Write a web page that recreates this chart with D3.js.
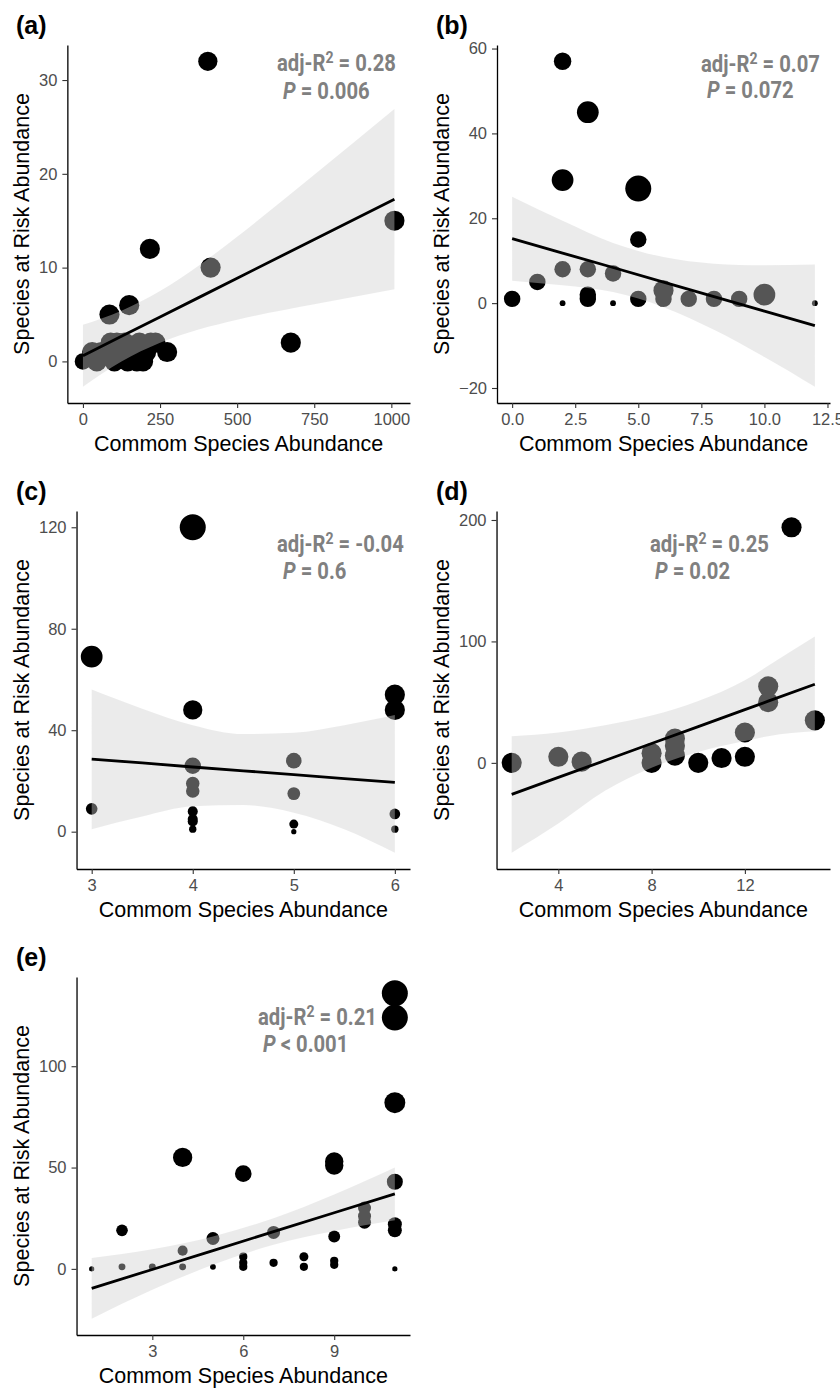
<!DOCTYPE html>
<html>
<head>
<meta charset="utf-8">
<script src="https://cdn.jsdelivr.net/npm/d3@7"></script>
<style>
  body { margin: 0; background: #fff; }
  svg text { font-family: "Liberation Sans", Arial, sans-serif; }
  .tick text { fill: #4d4d4d; font-size: 16.5px; }
  .tick line { stroke: #333; stroke-width: 1.1px; }
  .domain { stroke: #000; stroke-width: 1.3px; }
  .ttl { font-size: 21.5px; fill: #000; }
  .lbl { font-size: 25px; font-weight: bold; fill: #000; }
  .stat { font-family: Roboto, sans-serif !important; font-weight: 700; fill: #808080; font-size: 23px; }
</style>
</head>
<body>
<svg id="chart" width="840" height="1390"></svg>
<script>
// ---- panel (a)
var aX = [0, 30, 45, 60, 75, 86, 90, 102, 110, 120, 135, 145, 150, 160, 175, 183, 195, 205, 217, 220, 235, 273, 405, 414, 674, 1010];
var aY = [0, 1, 0, 1, 1, 5, 2, 0, 2, 1, 2, 0, 6, 1, 0, 2, 0, 1, 12, 2, 2, 1, 32, 10, 2, 15];
var aSize = [4, 6, 6, 6, 6, 6, 6, 6, 6, 6, 6, 6, 6, 6, 6, 6, 6, 6, 6, 6, 6, 6, 5.5, 6, 6, 6];
var aBandX = [0, 125, 250, 375, 500, 750, 1010];
var aFit = [0.6, 2.67, 4.74, 6.8, 8.87, 13.0, 17.3];
var aLo = [-2.7, 0.0, 2.0, 3.4, 4.45, 6.1, 7.7];
var aHi = [3.9, 5.4, 7.5, 10.2, 13.3, 19.9, 26.9];
var aXTicks = [0, 250, 500, 750, 1000], aYTicks = [0, 10, 20, 30];

// ---- panel (b)
var bX = [0, 1, 2, 2, 2, 2, 3, 3, 3, 3, 4, 4, 5, 5, 5, 6, 6, 7, 8, 9, 10, 12];
var bY = [1, 5, 8, 0, 57, 29, 45, 8, 1, 2, 7, 0, 27, 15, 1, 3, 1, 1, 1, 1, 2, 0];
var bSize = [4, 4, 4, 0.5, 4.5, 7, 7, 4, 4, 4, 4, 0.5, 10, 4, 4, 6, 4, 4, 4, 4, 7, 0.5];
var bBandX = [0, 2, 4, 6, 8, 10, 12];
var bFit = [15.2, 11.8, 8.4, 4.95, 1.53, -1.9, -5.3];
var bLo = [5.3, 4.2, 2.6, -0.95, -6.3, -12.7, -19.7];
var bHi = [25.1, 19.4, 14.2, 10.85, 9.3, 8.9, 9.1];
var bXTicks = [0, 2.5, 5, 7.5, 10, 12.5], bYTicks = [-20, 0, 20, 40, 60];

// ---- panel (c)
var cX = [3, 3, 4, 4, 4, 4, 4, 4, 4, 4, 4, 5, 5, 5, 5, 6, 6, 6, 6];
var cY = [69, 9, 120, 48, 26, 19, 16, 8, 5, 4, 1, 28, 15, 3, 0, 54, 48, 7, 1];
var cSize = [7, 2, 10, 5.5, 4, 2.7, 2.7, 1.5, 1.5, 1.5, 0.8, 3.6, 2.4, 1.2, 0.4, 6, 6, 1.7, 0.8];
var cBandX = [3, 3.5, 4, 4.5, 5, 5.5, 6];
var cFit = [28.6, 27.1, 25.5, 24, 22.5, 20.9, 19.4];
var cLo = [1, 6, 10, 10.5, 7.5, 1, -8.3];
var cHi = [56, 48.5, 42, 38.5, 39, 42, 46];
var cXTicks = [3, 4, 5, 6], cYTicks = [0, 40, 80, 120];

// ---- panel (d)
var dX = [2, 4, 5, 8, 8, 9, 9, 9, 10, 11, 12, 12, 13, 13, 14, 15];
var dY = [0, 5, 1, 8, 0, 20, 14, 6, 0, 4, 5, 25, 63, 50, 194, 35];
var dSize = [6, 6, 6, 6, 6, 6, 6, 6, 6, 6, 6, 6, 6, 6, 6, 6];
var dBandX = [2, 4, 6, 8, 10, 12, 13, 15];
var dFit = [-26, -12, 1.9, 15.9, 29.8, 43.8, 50.8, 64.7];
var dLo = [-74, -50, -23, -4, 9, 18, 22, 26];
var dHi = [22, 25, 31, 39, 51, 68, 80, 104];
var dXTicks = [4, 8, 12], dYTicks = [0, 100, 200];

// ---- panel (e)
var eX = [1, 2, 2, 3, 4, 4, 4, 5, 5, 6, 6, 6, 6, 7, 7, 8, 8, 9, 9, 9, 9, 9, 10, 10, 10, 11, 11, 11, 11, 11, 11, 11];
var eY = [0, 19, 1, 1, 55, 9, 1, 15, 1, 47, 6, 3, 1, 18, 3, 6, 1, 53, 51, 16, 4, 2, 30, 26, 23, 136, 124, 82, 43, 22, 19, 0];
var eSize = [0.4, 2, 0.7, 0.7, 5.5, 1.5, 0.7, 2.5, 0.5, 4.1, 1, 1, 1, 2.5, 1, 1.2, 1, 5, 5, 2.1, 1, 1, 2.5, 2.5, 2.5, 10, 10, 6.5, 3.8, 2.9, 2.9, 0.4];
var eBandX = [1, 3, 5, 7, 9, 11];
var eFit = [-9.6, -0.3, 9.0, 18.4, 27.7, 37.0];
var eLo = [-24.6, -10.3, 2, 11.9, 18.7, 24];
var eHi = [5.4, 9.7, 16, 25, 36.7, 50];
var eXTicks = [3, 6, 9], eYTicks = [0, 50, 100];

var panels = [
  { lab: "(a)", col: 0, row: 0, x: aX, y: aY, s: aSize, bx: aBandX, fit: aFit, lo: aLo, hi: aHi,
    xt: aXTicks, yt: aYTicks, xf: d3.format("d"), r2: "0.28", pv: "= 0.006", ax: 277, ay: 71, px: 283, py: 99 },
  { lab: "(b)", col: 1, row: 0, x: bX, y: bY, s: bSize, bx: bBandX, fit: bFit, lo: bLo, hi: bHi,
    xt: bXTicks, yt: bYTicks, xf: d3.format(".1f"), r2: "0.07", pv: "= 0.072", ax: 281, ay: 72, px: 287, py: 98 },
  { lab: "(c)", col: 0, row: 1, x: cX, y: cY, s: cSize, bx: cBandX, fit: cFit, lo: cLo, hi: cHi,
    xt: cXTicks, yt: cYTicks, xf: d3.format("d"), r2: "-0.04", pv: "= 0.6", ax: 277, ay: 86, px: 283, py: 113 },
  { lab: "(d)", col: 1, row: 1, x: dX, y: dY, s: dSize, bx: dBandX, fit: dFit, lo: dLo, hi: dHi,
    xt: dXTicks, yt: dYTicks, xf: d3.format("d"), r2: "0.25", pv: "= 0.02", ax: 230, ay: 86, px: 235, py: 113 },
  { lab: "(e)", col: 0, row: 2, x: eX, y: eY, s: eSize, bx: eBandX, fit: eFit, lo: eLo, hi: eHi,
    xt: eXTicks, yt: eYTicks, xf: d3.format("d"), r2: "0.21", pv: "< 0.001", ax: 258, ay: 93, px: 263, py: 120 }
];

var svg = d3.select("#chart");
var size = d3.scaleSqrt().domain([0, 10]).range([0, 13]);
var plotTop = 45, plotBottom = 403, plotRight = 410;

panels.forEach(function (p, k) {
  var g = svg.append("g").attr("transform", "translate(" + (p.col * 420) + "," + (p.row * 466) + ")");

  // ggplot style limits: data + ribbon, 5% expansion
  var ye = d3.extent(p.y.concat(p.lo, p.hi)), yp = (ye[1] - ye[0]) * 0.05;
  var xe = d3.extent(p.x.concat(p.bx)), xp = (xe[1] - xe[0]) * 0.05;
  var y = d3.scaleLinear().domain([ye[0] - yp, ye[1] + yp]).range([plotBottom, plotTop]);

  var ya = g.append("g").call(d3.axisLeft(y).tickValues(p.yt).tickSize(5).tickPadding(5).tickSizeOuter(0));
  var lw = d3.max(ya.selectAll(".tick text").nodes(), function (n) { return n.getComputedTextLength(); });
  var left = 39 + lw + 10;
  ya.attr("transform", "translate(" + left + ",0)");

  var x = d3.scaleLinear().domain([xe[0] - xp, xe[1] + xp]).range([left, plotRight]);

  var cid = "clip" + k;
  g.append("clipPath").attr("id", cid).append("rect")
    .attr("x", left).attr("y", plotTop).attr("width", plotRight - left).attr("height", plotBottom - plotTop);
  var plot = g.append("g").attr("clip-path", "url(#" + cid + ")");

  plot.selectAll("circle").data(p.x).enter().append("circle")
    .attr("cx", function (d) { return x(d); })
    .attr("cy", function (d, i) { return y(p.y[i]); })
    .attr("r", function (d, i) { return size(p.s[i]); })
    .attr("fill", "#000");

  var band = d3.area()
    .x(function (d) { return x(d); })
    .y0(function (d, i) { return y(p.lo[i]); })
    .y1(function (d, i) { return y(p.hi[i]); })
    .curve(d3.curveMonotoneX);
  plot.append("path").attr("d", band(p.bx)).attr("fill", "#cfcfcf").attr("fill-opacity", 0.41);

  var line = d3.line()
    .x(function (d) { return x(d); })
    .y(function (d, i) { return y(p.fit[i]); });
  plot.append("path").attr("d", line(p.bx)).attr("fill", "none").attr("stroke", "#000").attr("stroke-width", 2.8);

  g.append("g").attr("transform", "translate(0," + plotBottom + ")")
    .call(d3.axisBottom(x).tickValues(p.xt).tickFormat(p.xf).tickSize(5).tickPadding(5).tickSizeOuter(0));
  ya.raise();

  g.append("text").attr("class", "ttl").attr("x", (left + plotRight) / 2).attr("y", 451)
    .attr("text-anchor", "middle").text("Commom Species Abundance");
  g.append("text").attr("class", "ttl").attr("transform", "translate(28.5," + ((plotTop + plotBottom) / 2) + ") rotate(-90)")
    .attr("text-anchor", "middle").text("Species at Risk Abundance");
  g.append("text").attr("class", "lbl").attr("x", 16).attr("y", 34).text(p.lab);

  // condensed-looking stat labels
  var t = g.append("text").attr("class", "stat").attr("transform", "translate(" + p.ax + "," + p.ay + ") scale(0.88,1)");
  t.append("tspan").text("adj-R");
  t.append("tspan").attr("dy", -8).attr("font-size", 16).text("2");
  t.append("tspan").attr("dy", 8).text(" = " + p.r2);
  var t2 = g.append("text").attr("class", "stat").attr("transform", "translate(" + p.px + "," + p.py + ") scale(0.88,1)");
  t2.append("tspan").attr("font-style", "italic").text("P");
  t2.append("tspan").text(" " + p.pv);
});
</script>
</body>
</html>
